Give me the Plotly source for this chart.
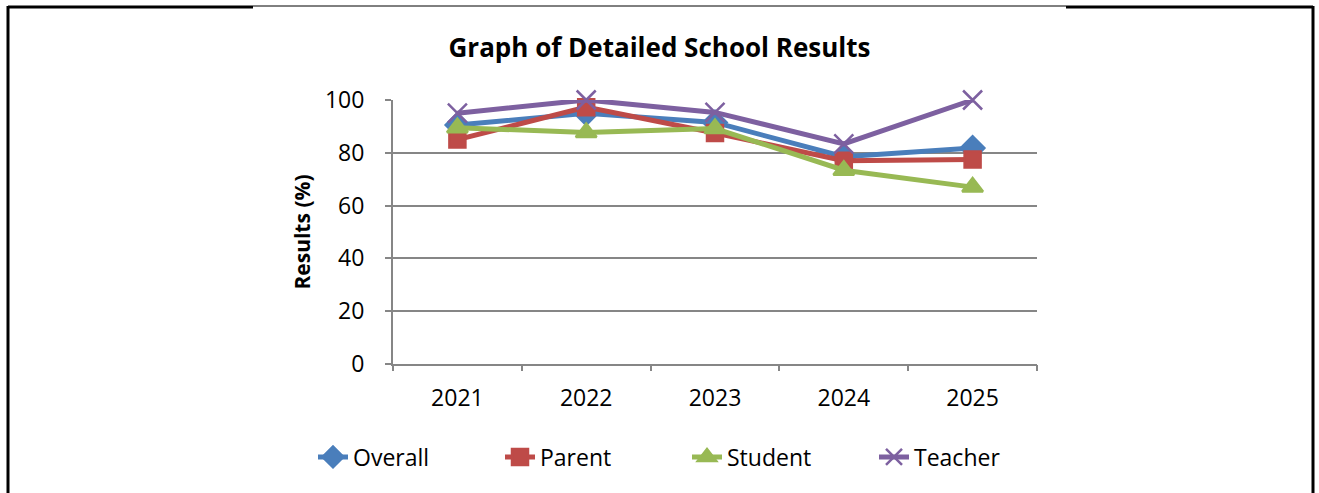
import plotly.graph_objects as go

years = ["2021", "2022", "2023", "2024", "2025"]
overall = [90.5, 95, 91.5, 78.5, 81.8]
parent = [85, 97.3, 87.5, 77, 77.5]
student = [89.5, 87.7, 89.2, 73.4, 67]
teacher = [95, 100, 95.3, 83.4, 100]
y_ticks = [0, 20, 40, 60, 80, 100]

series = [
    ("Overall", overall, "#4A7EBB", "diamond", 18),
    ("Parent", parent, "#BE4B48", "square", 16),
    ("Student", student, "#98B954", "triangle-up", 18),
    ("Teacher", teacher, "#7D60A0", "x-thin", 19),
]

W, H = 1319, 493
L, R, T, B = 393, 1037, 100, 364

fig = go.Figure()
xs = list(range(len(years)))
for name, vals, col, sym, sz in series:
    fig.add_trace(go.Scatter(
        x=xs, y=vals, name=name, mode="lines+markers", cliponaxis=False,
        line=dict(color=col, width=5),
        marker=dict(symbol=sym, size=sz, color=col,
                    line=dict(color=col, width=2.5)),
    ))

# invisible trace for secondary x axis (boundary tick marks)
fig.add_trace(go.Scatter(x=[-0.5, len(years) - 0.5], y=[0, 0], xaxis="x2",
                         mode="lines", line=dict(width=0), showlegend=False,
                         hoverinfo="skip"))

gray = "#868686"
fig.update_layout(
    width=W, height=H,
    margin=dict(l=L, r=W - R, t=T, b=H - B, autoexpand=False),
    paper_bgcolor="white", plot_bgcolor="white",
    font=dict(family="Open Sans, Liberation Sans, sans-serif", color="black", size=23),
    title=dict(text="<b>Graph of Detailed School Results</b>", x=0.5, xanchor="center",
               y=1 - 48 / H, yanchor="middle",
               font=dict(size=26, family="Open Sans, sans-serif")),
    xaxis=dict(range=[-0.5, len(years) - 0.5], tickvals=xs, ticktext=years,
               showgrid=False, zeroline=False, showline=True, linecolor=gray,
               linewidth=2, ticks="", tickfont=dict(size=23), ticklabelstandoff=12),
    xaxis2=dict(range=[-0.5, len(years) - 0.5], overlaying="x", side="bottom",
                tickvals=[i - 0.5 for i in range(len(years) + 1)],
                showticklabels=False, ticks="outside", ticklen=6, tickwidth=2,
                tickcolor=gray, showgrid=False, zeroline=False, showline=False),
    yaxis=dict(range=[0, 100], tickvals=y_ticks, showgrid=True, gridcolor=gray,
               gridwidth=2, zeroline=False, showline=True, linecolor=gray, linewidth=2,
               ticks="outside", ticklen=6, tickwidth=2, tickcolor=gray,
               tickfont=dict(size=23), ticklabelstandoff=16,
               title=dict(text="<b>Results (%)</b>", font=dict(size=21), standoff=9)),
    legend=dict(orientation="h", xref="paper", yref="paper",
                x=(313 - L) / (R - L), xanchor="left", y=-(457 - B) / (B - T),
                yanchor="middle", font=dict(size=23), entrywidth=142,
                entrywidthmode="pixels", traceorder="normal"),
    showlegend=True,
)

# outer frame
fx0 = -(L - 8) / (R - L)
fx1 = (1313 - L) / (R - L)
ftop = (B - 6) / (B - T)
fbot = -(H - B + 5) / (B - T)
fig.add_shape(type="line", xref="paper", yref="paper", x0=fx0, x1=fx0, y0=ftop, y1=fbot,
              line=dict(color="black", width=3))
fig.add_shape(type="line", xref="paper", yref="paper", x0=fx1, x1=fx1, y0=ftop, y1=fbot,
              line=dict(color="black", width=3))
fig.add_shape(type="line", xref="paper", yref="paper", x0=fx0, x1=(253 - L) / (R - L),
              y0=(B - 7) / (B - T), y1=(B - 7) / (B - T), line=dict(color="black", width=3))
fig.add_shape(type="line", xref="paper", yref="paper", x0=(253 - L) / (R - L), x1=(1066 - L) / (R - L),
              y0=ftop, y1=ftop, line=dict(color="black", width=1))
fig.add_shape(type="line", xref="paper", yref="paper", x0=(1066 - L) / (R - L), x1=fx1,
              y0=(B - 7) / (B - T), y1=(B - 7) / (B - T), line=dict(color="black", width=3))

fig.write_html("out.html", config={"displayModeBar": False},
               post_script="document.body.style.margin='0px';")
